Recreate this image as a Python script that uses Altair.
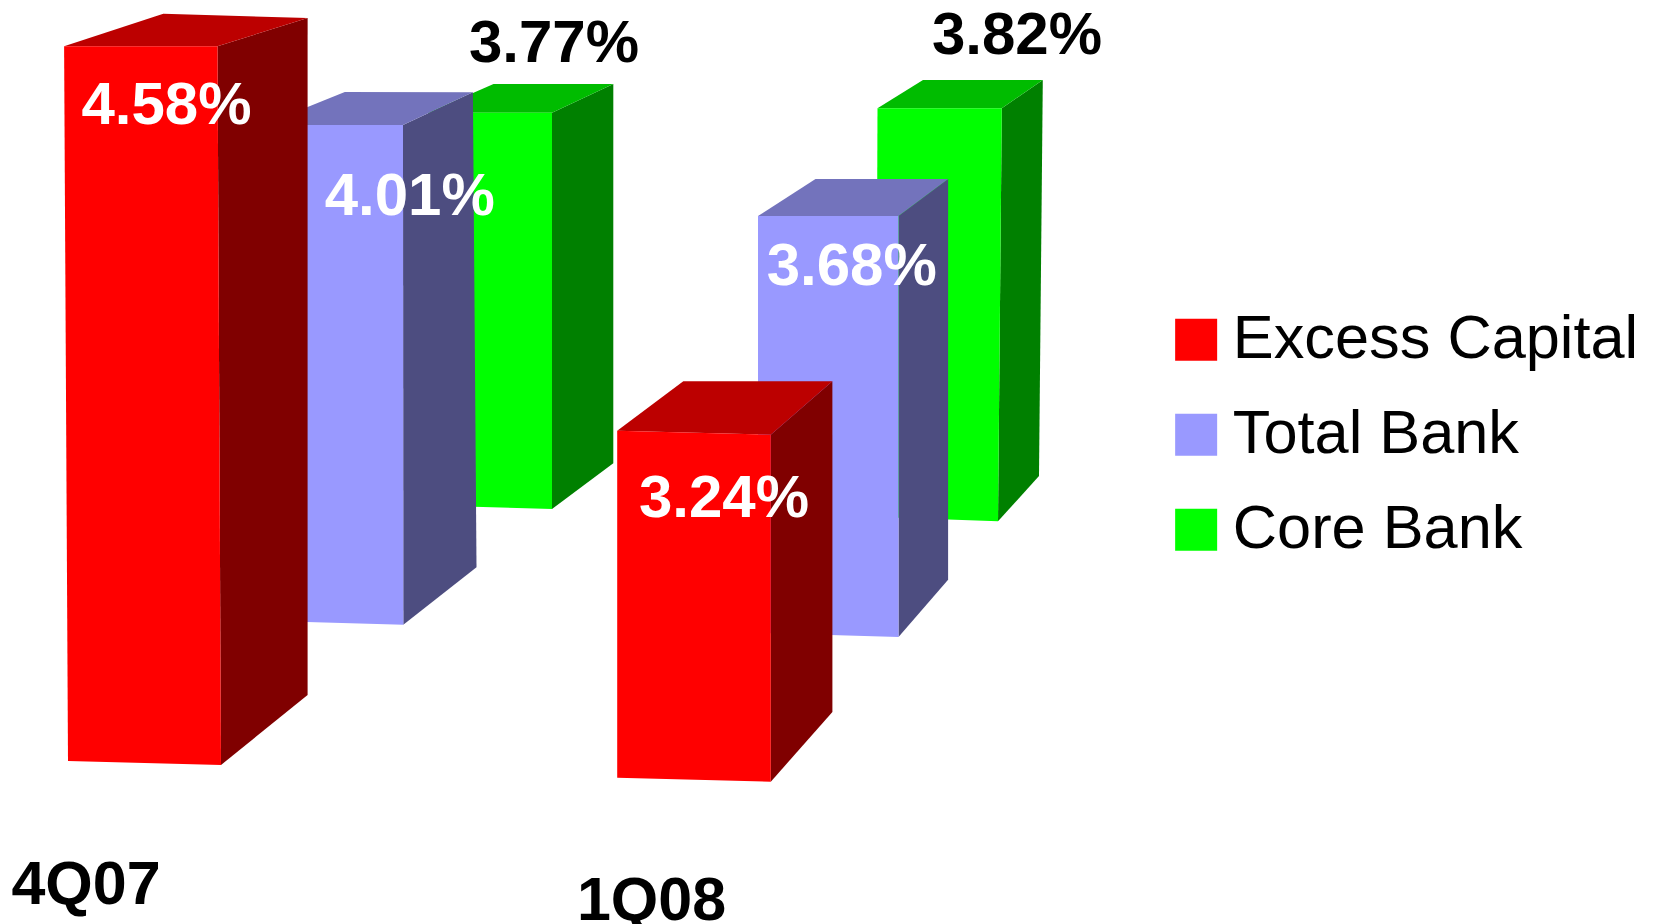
import altair as alt
import pandas as pd

# Reported values
series = ["Excess Capital", "Total Bank", "Core Bank"]
quarters = ["4Q07", "1Q08"]
excess_capital = [4.58, 3.24]
total_bank = [4.01, 3.68]
core_bank = [3.77, 3.82]

# Box outlines, in the chart's own drawing units.
# Each box: front TL, TR, BR, BL, back TL, TR, BR  (draw order = back to front)
box_names = ["Core Bank", "Total Bank", "Excess Capital", "Core Bank", "Total Bank", "Excess Capital"]
box_x = [
    [428, 552, 552, 428, 493.5, 613.3, 613.3],
    [263, 403, 403.3, 263, 344.8, 472.9, 476.5],
    [64.1, 217.5, 221, 68, 163.3, 307.6, 307.6],
    [877.5, 1001.8, 998, 876, 923, 1042.8, 1039],
    [758, 898.5, 898.5, 758, 815.5, 948.1, 948.1],
    [617.2, 770.8, 770.8, 617.2, 683.3, 832.4, 832.4],
]
box_y = [
    [112.7, 112.7, 509, 505.5, 84, 84, 463.3],
    [125, 125, 624.7, 620.7, 92, 92.3, 567.3],
    [46.3, 46.3, 765, 761, 13.7, 18, 695],
    [108.3, 108.3, 521.3, 517, 80, 80, 476],
    [216, 216, 637, 633, 179, 179, 579.7],
    [430.7, 434.7, 781.7, 777.7, 381.3, 381.3, 712],
]

# Labels
value_text = ["4.58%", "4.01%", "3.77%", "3.82%", "3.68%", "3.24%"]
value_x = [166.5, 409.7, 554, 1017, 851.7, 724]
value_y = [124, 215, 62, 54, 285, 516.7]
value_colour = ["white", "white", "black", "black", "white", "white"]
quarter_x = [86, 651.5]
quarter_y = [904, 920]

fill_domain = series + [s + " top" for s in series] + [s + " side" for s in series]
fill_range = ["#FF0000", "#9999FF", "#00FF00",
              "#BC0000", "#7373BC", "#00BC00",
              "#800000", "#4D4D80", "#008000"]

FACES = [("side", [1, 5, 6, 2]), ("top", [0, 4, 5, 1]), ("", [0, 1, 2, 3])]
rows = []
for b, (name, xs, ys) in enumerate(zip(box_names, box_x, box_y)):
    for f, (suffix, idx) in enumerate(FACES):
        key = (name + " " + suffix).strip()
        for o, i in enumerate(idx + [idx[0]]):
            rows.append({"face": f"{b}-{f}", "part": key, "o": o, "x": xs[i], "y": ys[i]})
faces = pd.DataFrame(rows)

W, H = 1638, 916
xs = alt.Scale(domain=[8, 8 + W], range=[0, W], nice=False, zero=False)
ys = alt.Scale(domain=[8, 8 + H], range=[0, H], nice=False, zero=False)

boxes = alt.Chart(faces).mark_line(strokeWidth=0, interpolate="linear-closed").encode(
    x=alt.X("x:Q", scale=xs, axis=None),
    y=alt.Y("y:Q", scale=ys, axis=None),
    order=alt.Order("o:Q"),
    detail="face:N",
    fill=alt.Fill("part:N", scale=alt.Scale(domain=fill_domain, range=fill_range),
                  legend=alt.Legend(values=series, title=None, orient="none",
                                    legendX=1157.5, legendY=301,
                                    symbolType="square", symbolSize=1764,
                                    symbolStrokeWidth=0, labelFontSize=61.3,
                                    labelFont="Liberation Sans", labelColor="black",
                                    labelOffset=6, rowPadding=33, padding=0,
                                    labelLimit=600)),
)

values = pd.DataFrame({"t": value_text, "x": value_x, "y": value_y, "c": value_colour})
value_labels = alt.Chart(values).mark_text(font="Liberation Sans", fontWeight="bold", fontSize=60,
                                           align="center", baseline="alphabetic").encode(
    x=alt.X("x:Q", scale=xs, axis=None),
    y=alt.Y("y:Q", scale=ys, axis=None),
    text="t:N",
    color=alt.Color("c:N", scale=None),
)

qdf = pd.DataFrame({"t": quarters, "x": quarter_x, "y": quarter_y})
quarter_labels = alt.Chart(qdf).mark_text(font="Liberation Sans", fontWeight="bold", fontSize=61,
                                          align="center", baseline="alphabetic", color="black").encode(
    x=alt.X("x:Q", scale=xs, axis=None),
    y=alt.Y("y:Q", scale=ys, axis=None),
    text="t:N",
)

chart = alt.layer(boxes, value_labels, quarter_labels).properties(
    width=W, height=H, padding=0, background="white",
    autosize=alt.AutoSizeParams(type="none")
).configure_view(stroke=None)
chart.save("out.html", embed_options={"renderer": "svg", "actions": False})
